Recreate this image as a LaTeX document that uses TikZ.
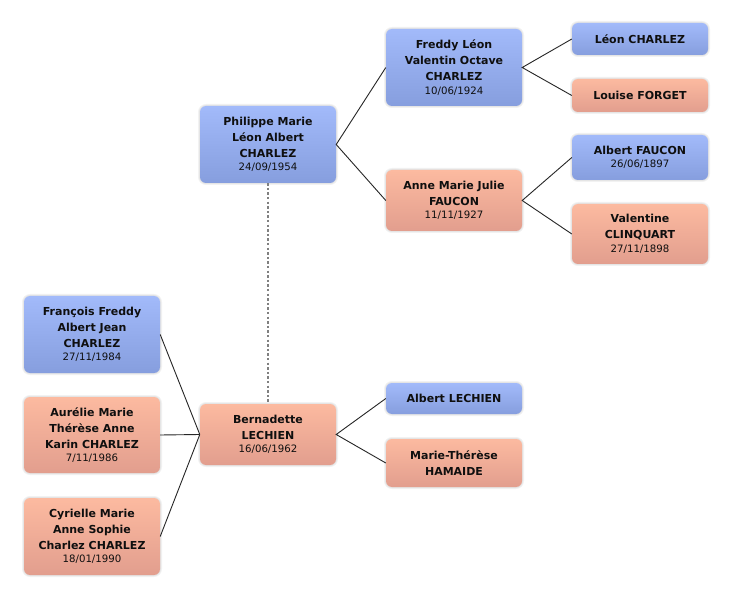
\documentclass[tikz,border=0pt]{standalone}
\usepackage{fontspec}
\setmainfont{DejaVu Sans}
\definecolor{bluetop}{RGB}{162,186,250}
\definecolor{bluebot}{RGB}{134,158,222}
\definecolor{saltop}{RGB}{252,186,160}
\definecolor{salbot}{RGB}{226,158,142}
\definecolor{txt}{RGB}{15,15,15}
\newcommand{\datef}{\fontsize{10.2}{13}\selectfont\mdseries}
\tikzset{
  person/.style={rounded corners=6pt, minimum width=136pt, align=center, inner sep=2pt,
    text=txt, font=\fontsize{11}{16}\selectfont\bfseries,
    preaction={draw=black, draw opacity=0.05, line width=4pt},
    preaction={draw=black, draw opacity=0.05, line width=2pt}},
  male/.style={person, top color=bluetop, bottom color=bluebot},
  female/.style={person, top color=saltop, bottom color=salbot},
  link/.style={draw=black!85, line width=0.9pt},
  marriage/.style={draw=black!50, line width=1.7pt, dash pattern=on 2.4pt off 2.2pt}
}
\begin{document}
\begin{tikzpicture}[x=1pt,y=-1pt]
\useasboundingbox[fill=white] (0,0) rectangle (732,599);
\node[male, minimum height=77pt] (phil) at (268,144.5) {Philippe Marie\\Léon Albert\\CHARLEZ\\[-2.5pt]{\datef 24/09/1954}};
\node[male, minimum height=77pt] (freddy) at (454,67.5) {Freddy Léon\\Valentin Octave\\CHARLEZ\\[-2.5pt]{\datef 10/06/1924}};
\node[female, minimum height=61pt] (anne) at (454,200.5) {Anne Marie Julie\\FAUCON\\[-2.5pt]{\datef 11/11/1927}};
\node[male, minimum height=32pt] (leon) at (640,39) {Léon CHARLEZ};
\node[female, minimum height=33pt] (louise) at (640,95.5) {Louise FORGET};
\node[male, minimum height=45pt] (albertf) at (640,157.5) {Albert FAUCON\\[-2.5pt]{\datef 26/06/1897}};
\node[female, minimum height=60pt] (valentine) at (640,234) {Valentine\\CLINQUART\\[-2.5pt]{\datef 27/11/1898}};
\node[male, minimum height=77pt] (francois) at (92,334.5) {François Freddy\\Albert Jean\\CHARLEZ\\[-2.5pt]{\datef 27/11/1984}};
\node[female, minimum height=76pt] (aurelie) at (92,435) {Aurélie Marie\\Thérèse Anne\\Karin CHARLEZ\\[-2.5pt]{\datef 7/11/1986}};
\node[female, minimum height=77pt] (cyrielle) at (92,536.5) {Cyrielle Marie\\Anne Sophie\\Charlez CHARLEZ\\[-2.5pt]{\datef 18/01/1990}};
\node[female, minimum height=61pt] (bern) at (268,434.5) {Bernadette\\LECHIEN\\[-2.5pt]{\datef 16/06/1962}};
\node[male, minimum height=31pt] (albertl) at (454,398.5) {Albert LECHIEN};
\node[female, minimum height=48pt] (marie) at (454,463) {Marie-Thérèse\\HAMAIDE};

\draw[marriage] (phil.south) -- (bern.north);
\draw[link] (freddy.west) -- (phil.east) -- (anne.west);
\draw[link] (leon.west) -- (freddy.east) -- (louise.west);
\draw[link] (albertf.west) -- (anne.east) -- (valentine.west);
\draw[link] (albertl.west) -- (bern.east) -- (marie.west);
\draw[link] (francois.east) -- (bern.west);
\draw[link] (aurelie.east) -- (bern.west);
\draw[link] (cyrielle.east) -- (bern.west);
\end{tikzpicture}
\end{document}
